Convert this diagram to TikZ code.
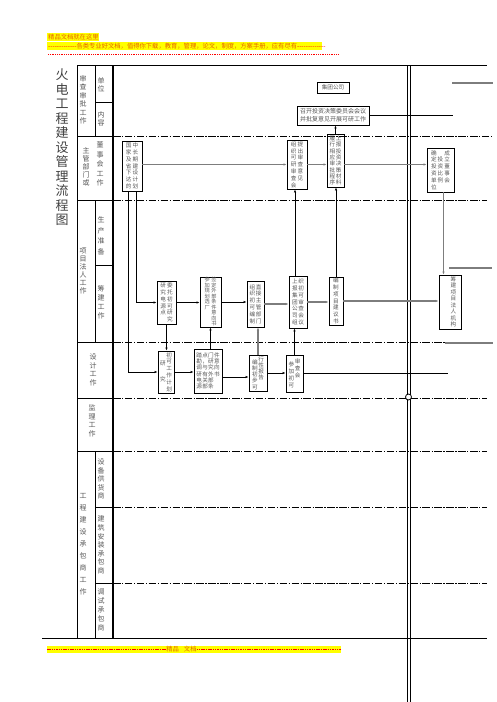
\documentclass[tikz,border=0pt]{standalone}
\usepackage{fontspec}
\newfontfamily\cjk{Noto Sans CJK SC}
\usetikzlibrary{arrows.meta}
\definecolor{hiyellow}{RGB}{255,255,0}
\definecolor{hdorange}{RGB}{230,100,0}
\definecolor{txtgray}{RGB}{85,85,85}
\definecolor{lngray}{RGB}{125,125,125}
% characters stacked top to bottom, one column
\makeatletter
\newcommand\vcol[2][6.8pt]{\vtop{\baselineskip=#1\lineskiplimit=-\maxdimen\@tfor\vc:=#2\do{\hbox to 1em{\hss\vc\hss}}}}
\makeatother
\begin{document}
\begin{tikzpicture}[x=1pt,y=-1pt,font=\cjk,
    box/.style={draw,line width=0.8pt,inner sep=0pt,text=txtgray,font=\cjk\fontsize{5.6}{6.8}\selectfont},
    lab/.style={inner sep=0pt,text=txtgray,font=\cjk\fontsize{7}{8}\selectfont},
    flow/.style={line width=0.8pt,-{Latex[length=3pt,width=2.4pt]}},
    thickflow/.style={flow,line width=1.4pt,lngray},
    lane/.style={line width=0.9pt,dash pattern=on 7.5pt off 1.6pt on 1.2pt off 1.6pt},
    gridline/.style={line width=0.8pt}]
  \useasboundingbox (0,0) rectangle (496,702);

  % header and footer
  \fill[hiyellow] (47,33) rectangle (99,41);
  \node[anchor=west,inner sep=0pt,text=hdorange,font=\cjk\fontsize{6.3}{7}\selectfont] (hd1) at (48,37) {精品文档就在这里};
  \fill[hiyellow] (47,42) rectangle (322,50);
  \node[anchor=west,inner sep=0pt,text=hdorange,font=\cjk\fontsize{6.3}{7}\selectfont] (hd2) at (48,46)
    {{\color{red}-------------}各类专业好文档，值得你下载，教育，管理，论文，制度，方案手册，应有尽有{\color{red}-------------}};
  \draw[red,line width=0.8pt,dash pattern=on 1pt off 0.8pt] (48,54) -- (338,54);
  \fill[hiyellow] (47,646) rectangle (341,653);
  \draw[red,line width=0.8pt,dash pattern=on 1.5pt off 0.8pt] (47,649.5) -- (341,649.5);
  \node[fill=hiyellow,inner sep=0.5pt,text=hdorange,font=\cjk\fontsize{6.3}{7}\selectfont] (ft) at (181.5,649.5) {精品\hspace{5pt}文档};

  % title
  \node[inner sep=0pt,text=black!75,font=\cjk\fontsize{13}{14.5}\selectfont] (title) at (62,147.5) {\vcol[14.5pt]{火电工程建设管理流程图}};

  % table frame
  \draw[gridline] (77,65) -- (487,65);
  \draw[gridline] (42,638) -- (487,638);
  \draw[gridline] (77,65) -- (77,638);
  \draw[line width=1.6pt] (113,65) -- (113,638);
  \draw[gridline] (95,65) -- (95,136.5) (95,200) -- (95,342) (95,451) -- (95,638);
  \draw[gridline] (95,102) -- (113,102) (95,265) -- (113,265) (95,507) -- (113,507) (95,583) -- (113,583);
  \foreach \y in {136.5,200,342,398,451}
    \draw[gridline] (77,\y) -- (113,\y);
  \foreach \y/\e in {136.5/493,200/487,342/445,398/487,451/487,507/487,583/487}
    \draw[lane] (113,\y) -- (\e,\y);
  \draw[gridline] (407,65) -- (407,702) (410,65) -- (410,702);
  \draw[gridline,fill=white] (408.5,397) circle[radius=3pt];
  \draw[lngray,line width=1.4pt] (452,83) -- (493,83);
  \draw[lngray,line width=1.4pt] (449,268) -- (492,268);
  \draw[lngray,line width=1.4pt] (445,343) -- (493,343);

  % row labels
  \node[lab] (l_sc) at (83,100) {\vcol[8.5pt]{审查审批工作}};
  \node[lab] (l_dw) at (101,85) {\vcol[8pt]{单位}};
  \node[lab] (l_nr) at (101,119) {\vcol[8pt]{内容}};
  \node[lab] (l_zg) at (86,167) {\vcol[8pt]{主管部门或}};
  \node[lab] (l_ds) at (100,164) {\vcol[9.5pt]{董事会工作}};
  \node[lab] (l_xm) at (83,271) {\vcol[8pt]{项目法人工作}};
  \node[lab] (l_sz) at (101,236) {\vcol[10.5pt]{生产准备}};
  \node[lab] (l_cj) at (101,302) {\vcol[9pt]{筹建工作}};
  \node[lab] (l_sj) at (93,370) {\vcol[8.5pt]{设计工作}};
  \node[lab] (l_jl) at (92,421) {\vcol[8.5pt]{监理工作}};
  \node[lab] (l_gc) at (83,544) {\vcol[12pt]{工程建设承包商工作}};
  \node[lab] (l_sb) at (101,479) {\vcol[8.5pt]{设备供货商}};
  \node[lab] (l_jz) at (101,545) {\vcol[8.6pt]{建筑安装承包商}};
  \node[lab] (l_ts) at (101,610) {\vcol[8.8pt]{调试承包商}};

  % boxes
  \node[box,minimum width=32pt,minimum height=11pt] (b_jt) at (333,87.5) {集团公司};
  \node[box,align=left,minimum width=72pt,minimum height=19pt,font=\cjk\fontsize{6}{8}\selectfont] (b_zk) at (333,115.5)
    {召开投资决策委员会会议\\并批复意见开展可研工作};
  \node[box,minimum width=20pt,minimum height=50pt] (b_gj) at (132,166) {\vcol{国家及省下达的}\hspace{1pt}\vcol{中长期建设计划}};
  \node[box,minimum width=20pt,minimum height=49pt] (b_sc) at (297,164.5) {\vcol{组织可研审查会}\hspace{1pt}\vcol{提出审查意见}};
  \node[box,minimum width=17pt,minimum height=53pt] (b_sb) at (335.5,160.5) {\vcol[6.3pt]{履行相应审批程序}\hspace{0.5pt}\vcol[6.3pt]{上报投资决策材料}};
  \node[box,minimum width=27pt,minimum height=44pt] (b_cl) at (440.5,170) {\vcol{确定投资单位}\hspace{1pt}\vcol{{}投资比例}\hspace{1pt}\vcol{成立董事会}};
  \node[box,minimum width=19pt,minimum height=43pt] (b_wt) at (166.5,302.5) {\vcol{研究电源点}\hspace{1pt}\vcol{委托初可研究}};
  \node[box,minimum width=21pt,minimum height=50pt,font=\cjk\fontsize{5.2}{5.5}\selectfont] (b_qd) at (210.5,302) {\vcol[5.5pt]{参加规划选厂}\hspace{1.5pt}\vcol[5.5pt]{签定外部条件意向书}};
  \node[box,minimum width=17pt,minimum height=46pt] (b_zj) at (255.5,304) {\vcol{组织初可编制}\hspace{0.5pt}\vcol{直接主管部门}};
  \node[box,minimum width=18pt,minimum height=52pt] (b_sj) at (298,302) {\vcol{上报集团公司组}\hspace{0.5pt}\vcol{织初可审查会议}};
  \node[box,minimum width=14pt,minimum height=48pt] (b_bz) at (336,301) {\vcol{编制项目建议书}};
  \node[box,minimum width=22pt,minimum height=54pt] (b_cj) at (450,302) {\hspace{7pt}\vcol[6.5pt]{筹建项目法人机构}};
  \node[box,minimum width=16pt,minimum height=42pt] (b_jh) at (166,372) {\vcol[8pt]{{}研{}究}\hspace{0.5pt}\vcol{初可工作计划}};
  \node[box,minimum width=28pt,minimum height=44pt] (b_tk) at (208,371)
    {\vcol[6.3pt]{踏勘调研电源}\hspace{0.3pt}\vcol[6.3pt]{点，与有关部}\hspace{0.3pt}\vcol[6.3pt]{门研究外部条}\hspace{0.3pt}\vcol[6.3pt]{件意向书}};
  \node[box,minimum width=18pt,minimum height=36pt] (b_kx) at (258,373) {\raisebox{-3pt}{\vcol[6.3pt]{编制初步可}}\hspace{0.5pt}\vcol[6.3pt]{行性报告}};
  \node[box,minimum width=17pt,minimum height=37pt] (b_cs) at (294.5,373.5) {\raisebox{-3pt}{\vcol{参加初可}}\hspace{0.5pt}\vcol{审查会}};

  % free ends
  \coordinate (e_zk) at (453,115.5);
  \coordinate (e_cs) at (448,373.5);

  % connectors
  \draw[thickflow] (b_gj.east |- b_sc.west) -- (b_sc.west);
  \draw[thickflow] (b_sc.east) -- (b_sc.east -| b_sb.west);
  \draw[thickflow] (b_sb.east |- b_sc.east) -- (b_cl.west |- b_sc.east);
  \draw[flow] (b_sb.north) -- (b_sb.north |- b_zk.south);
  \draw[gridline] (b_zk.east) -- (e_zk);
  \draw[thickflow] ([xshift=3pt]b_cl.south) -- ([xshift=3pt]b_cl.south |- b_cj.north);
  \draw[flow] ([xshift=4pt]b_gj.south) |- (b_wt.west);
  \draw[flow] ([xshift=-4pt]b_gj.south) |- (b_jh.west);
  \draw[flow] (b_wt.east) -- (b_wt.east -| b_qd.west);
  \draw[flow] (b_qd.east) -- (b_qd.east -| b_zj.west);
  \draw[thickflow] (b_zj.east) -- (b_zj.east -| b_sj.west);
  \draw[thickflow] (b_sj.east) -- (b_sj.east -| b_bz.west);
  \draw[thickflow] (b_bz.east) -- (b_bz.east -| b_cj.west);
  \draw[flow] ([xshift=-3pt]b_sj.north) -- ([xshift=-3pt]b_sj.north |- b_sc.south);
  \draw[flow] (b_bz.north) -- (b_bz.north |- b_sb.south);
  \draw[flow] (b_wt.south) -- (b_wt.south |- b_jh.north);
  \draw[flow] (b_qd.south |- b_tk.north) -- (b_qd.south);
  \draw[thickflow] (b_kx.north) -- (b_kx.north |- b_zj.south);
  \draw[flow] (b_cs.north) -- (b_cs.north |- b_sj.south);
  \draw[flow] (b_jh.east) -- (b_jh.east -| b_tk.west);
  \draw[flow] ([yshift=-6pt]b_tk.east) -- ([yshift=-6pt]b_tk.east -| b_kx.west);
  \draw[flow] (b_kx.east) -- (b_kx.east -| b_cs.west);
  \draw[gridline] (b_cs.east) -- (e_cs);
\end{tikzpicture}
\end{document}
